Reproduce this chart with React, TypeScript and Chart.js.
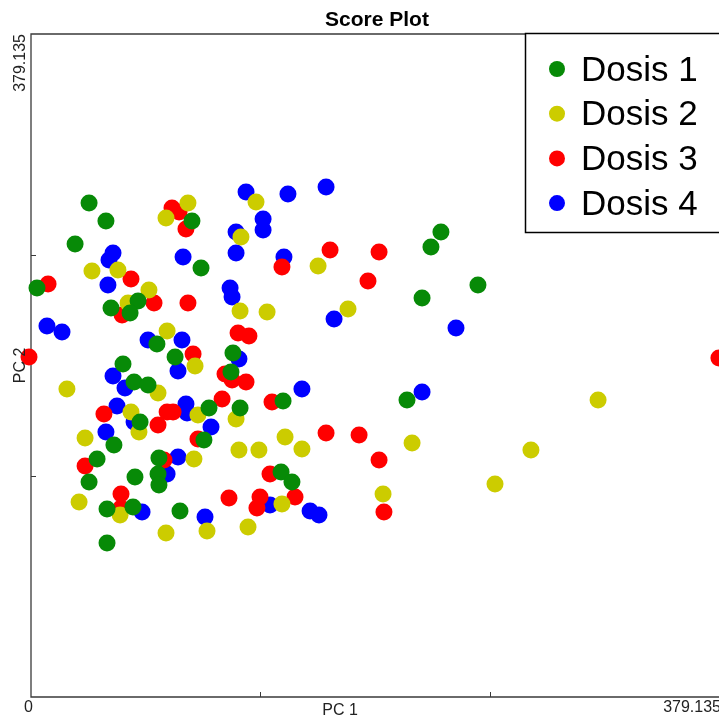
import React, { useEffect, useRef } from 'react';
import { Chart, registerables } from 'chart.js';

Chart.register(...registerables);

const AXIS_MIN = 0;
const AXIS_MAX = 379.135;
const TICK_VALUES = [0, 126.378, 252.757, 379.135];
const X_TICK_LABELS = ['0', '', '', '379.135'];
const Y_TICK_LABELS = ['', '', '', '379.135'];
const X_TITLE = 'PC 1';
const Y_TITLE = 'PC 2';
const CHART_TITLE = 'Score Plot';
const SERIES_NAMES = ['Dosis 1', 'Dosis 2', 'Dosis 3', 'Dosis 4'];
const SERIES_COLORS = ['#078a07', '#cccc00', '#ff0000', '#0000ff'];

const dosis1: number[][] = [
  [32.0, 282.5], [41.3, 272.2], [24.3, 259.1], [88.7, 272.2], [93.7, 245.3],
  [3.3, 233.9], [59.0, 226.5], [44.1, 222.5], [54.6, 219.6], [69.4, 201.9],
  [79.4, 194.4], [111.3, 196.7], [50.7, 190.4], [56.8, 180.1], [64.5, 178.4],
  [60.1, 157.3], [98.1, 165.3], [115.2, 165.3], [95.3, 147.0], [45.7, 144.1],
  [36.4, 136.1], [70.5, 136.7], [70.0, 127.5], [70.5, 121.2], [57.3, 125.8],
  [32.0, 123.0], [41.9, 107.5], [56.2, 108.7], [82.1, 106.4], [41.9, 88.1],
  [138.9, 169.3], [137.8, 128.7], [143.8, 123.0], [207.2, 169.8], [225.9, 265.9],
  [220.4, 257.3], [246.3, 235.6], [215.5, 228.2], [110.2, 185.9],
];

const dosis2: number[][] = [
  [86.5, 282.5], [74.4, 273.9], [124.0, 283.1], [115.7, 263.1], [33.6, 243.6],
  [47.9, 244.2], [158.2, 246.5], [65.0, 232.7], [53.5, 225.3], [115.2, 220.7],
  [130.1, 220.2], [174.7, 221.9], [75.0, 209.3], [90.4, 189.3], [19.8, 176.1],
  [70.0, 173.8], [55.1, 163.0], [92.0, 161.3], [113.0, 159.0], [59.5, 151.5],
  [29.8, 148.1], [140.0, 148.7], [114.6, 141.3], [125.6, 141.3], [149.3, 141.8],
  [89.8, 136.1], [210.0, 145.3], [312.5, 169.8], [275.5, 141.3], [255.7, 121.8],
  [194.0, 116.1], [26.5, 111.5], [49.1, 104.1], [138.3, 110.4], [119.6, 97.2],
  [97.0, 94.9], [74.4, 93.8],
];

const dosis3: number[][] = [
  [77.7, 279.6], [81.6, 277.4], [85.4, 267.6], [164.8, 255.6], [191.8, 254.5],
  [138.3, 245.9], [9.4, 236.2], [55.1, 239.0], [185.7, 237.9], [67.8, 225.3],
  [86.5, 225.3], [50.2, 218.5], [114.1, 208.2], [120.1, 206.4], [-1.1, 194.4],
  [89.3, 196.1], [379.1, 193.9], [106.9, 184.7], [110.8, 181.3], [118.5, 180.1],
  [105.3, 170.4], [132.8, 168.7], [40.2, 161.8], [70.0, 155.5], [75.0, 163.0],
  [78.3, 163.0], [92.0, 147.5], [162.6, 151.0], [180.8, 149.8], [191.8, 135.5],
  [29.8, 132.1], [73.3, 135.5], [131.7, 127.5], [49.6, 116.1], [49.6, 108.1],
  [109.1, 113.8], [126.2, 114.4], [124.5, 108.1], [145.5, 114.4], [194.5, 105.8],
];

const dosis4: number[][] = [
  [118.5, 288.8], [141.6, 287.6], [162.6, 291.6], [127.9, 273.3], [127.9, 267.1],
  [113.0, 265.9], [113.0, 253.9], [45.2, 253.9], [43.0, 249.9], [83.8, 251.6],
  [139.4, 251.6], [42.4, 235.6], [167.0, 216.2], [234.2, 211.0], [109.7, 233.9],
  [110.8, 228.7], [8.8, 212.2], [17.1, 208.7], [64.5, 204.2], [83.2, 204.2],
  [114.6, 193.3], [81.0, 186.4], [45.2, 183.6], [51.8, 176.7], [149.3, 176.1],
  [215.5, 174.4], [47.4, 166.4], [85.4, 167.6], [86.0, 162.4], [56.8, 157.3],
  [41.3, 151.5], [99.2, 154.4], [81.0, 137.2], [75.0, 127.5], [61.2, 105.8],
  [95.9, 102.9], [131.7, 109.8], [153.8, 106.4], [158.7, 104.1],
];

const SERIES_DATA = [dosis1, dosis2, dosis3, dosis4];

const FONT = "'Liberation Sans', Arial, Helvetica, sans-serif";

const decorPlugin = {
  id: 'decor',
  beforeDatasetsDraw(chart: any) {
    const { ctx, chartArea } = chart;
    const xs = chart.scales.x;
    const ys = chart.scales.y;
    ctx.save();
    ctx.strokeStyle = '#3a3a3a';
    ctx.lineWidth = 1.3;
    ctx.beginPath();
    ctx.moveTo(chartArea.right + 30, chartArea.top);
    ctx.lineTo(chartArea.left, chartArea.top);
    ctx.lineTo(chartArea.left, chartArea.bottom);
    ctx.lineTo(chartArea.right + 30, chartArea.bottom);
    ctx.stroke();
    ctx.lineWidth = 1;
    TICK_VALUES.slice(1, -1).forEach((v) => {
      const px = Math.round(xs.getPixelForValue(v)) + 0.5;
      ctx.beginPath();
      ctx.moveTo(px, chartArea.bottom);
      ctx.lineTo(px, chartArea.bottom - 5);
      ctx.stroke();
      const py = Math.round(ys.getPixelForValue(v)) + 0.5;
      ctx.beginPath();
      ctx.moveTo(chartArea.left, py);
      ctx.lineTo(chartArea.left + 5, py);
      ctx.stroke();
    });
    ctx.restore();
  },
  afterDatasetsDraw(chart: any) {
    const { ctx, chartArea } = chart;
    const xs = chart.scales.x;
    const ys = chart.scales.y;
    ctx.save();
    ctx.fillStyle = '#000';

    // title
    ctx.font = `bold 21px ${FONT}`;
    ctx.textAlign = 'center';
    ctx.textBaseline = 'alphabetic';
    ctx.fillText(CHART_TITLE, (chartArea.left + chartArea.right) / 2 + 2, 26);

    // x tick labels (right-aligned to tick)
    ctx.font = `16px ${FONT}`;
    ctx.fillStyle = '#222';
    ctx.textAlign = 'right';
    TICK_VALUES.forEach((v, i) => {
      const lbl = X_TICK_LABELS[i];
      if (!lbl) return;
      ctx.fillText(lbl, xs.getPixelForValue(v) + 2, 712);
    });
    // x title
    ctx.textAlign = 'center';
    ctx.fillText(X_TITLE, 340, 715);

    // y tick labels (rotated)
    TICK_VALUES.forEach((v, i) => {
      const lbl = Y_TICK_LABELS[i];
      if (!lbl) return;
      ctx.save();
      ctx.translate(25, ys.getPixelForValue(v));
      ctx.rotate(-Math.PI / 2);
      ctx.textAlign = 'right';
      ctx.fillText(lbl, 0, 0);
      ctx.restore();
    });
    // y title
    ctx.save();
    ctx.translate(25, (chartArea.top + chartArea.bottom) / 2);
    ctx.rotate(-Math.PI / 2);
    ctx.textAlign = 'center';
    ctx.fillText(Y_TITLE, 0, 0);
    ctx.restore();

    // legend box
    const bx = 525.5, by = 33.5, bw = 300, bh = 199;
    ctx.fillStyle = '#fff';
    ctx.fillRect(bx, by, bw, bh);
    ctx.strokeStyle = '#000';
    ctx.lineWidth = 1.5;
    ctx.strokeRect(bx, by, bw, bh);
    ctx.font = `35px ${FONT}`;
    ctx.textAlign = 'left';
    ctx.textBaseline = 'middle';
    SERIES_NAMES.forEach((name, i) => {
      const cy = 69 + i * 44.7;
      ctx.fillStyle = SERIES_COLORS[i];
      ctx.beginPath();
      ctx.arc(557, cy, 8, 0, Math.PI * 2);
      ctx.fill();
      ctx.fillStyle = '#000';
      ctx.fillText(name, 581, cy + 2);
    });
    ctx.restore();
  },
};

export default function App() {
  const canvasRef = useRef<HTMLCanvasElement | null>(null);

  useEffect(() => {
    document.body.style.margin = '0';
    const canvas = canvasRef.current;
    if (!canvas) return;
    const chart = new Chart(canvas, {
      type: 'scatter',
      data: {
        datasets: SERIES_NAMES.map((name, i) => ({
          label: name,
          data: SERIES_DATA[i].map(([x, y]) => ({ x, y })),
          backgroundColor: SERIES_COLORS[i],
          borderColor: SERIES_COLORS[i],
          pointRadius: 8.5,
          pointBorderWidth: 0,
          pointHoverRadius: 8.5,
          clip: false as any,
        })),
      },
      options: {
        animation: false,
        responsive: false,
        maintainAspectRatio: false,
        devicePixelRatio: 1,
        layout: { padding: { left: 31, top: 34, right: 800 - 719, bottom: 23 } },
        plugins: {
          legend: { display: false },
          title: { display: false },
          tooltip: { enabled: false },
        },
        scales: {
          x: { type: 'linear', min: AXIS_MIN, max: AXIS_MAX, display: false },
          y: { type: 'linear', min: AXIS_MIN, max: AXIS_MAX, display: false },
        },
      },
      plugins: [decorPlugin],
    });
    return () => chart.destroy();
  }, []);

  return (
    <div style={{ position: 'fixed', left: 0, top: 0, width: 719, height: 720, overflow: 'hidden', background: '#fff' }}>
      <canvas ref={canvasRef} width={800} height={720} style={{ width: 800, height: 720, display: 'block' }} />
    </div>
  );
}
